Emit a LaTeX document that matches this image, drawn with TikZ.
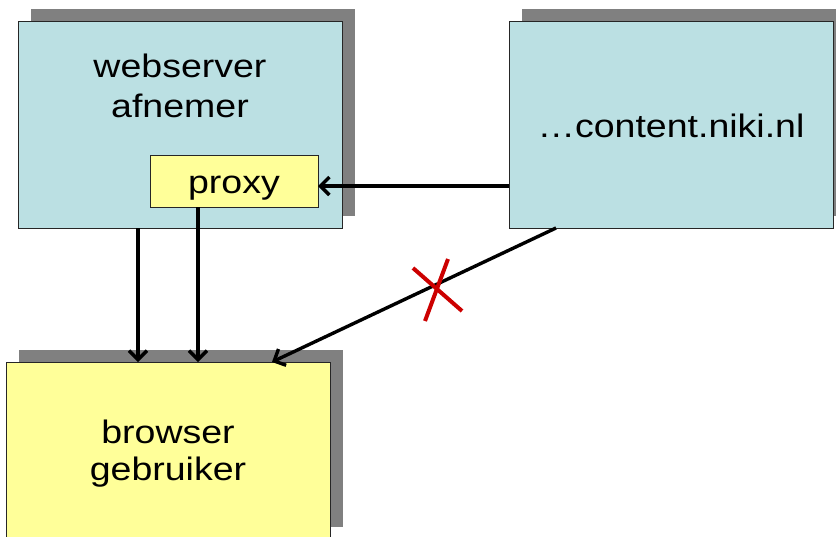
\documentclass[tikz,border=0pt]{standalone}
\usepackage{fontspec}
\setmainfont[FakeStretch=1.154]{Liberation Sans}
\usetikzlibrary{arrows.meta,shadows}
\definecolor{boxblue}{HTML}{BBE0E3}
\definecolor{boxyellow}{HTML}{FFFF99}
\definecolor{shadowgray}{HTML}{808080}
\definecolor{crossred}{HTML}{CC0000}
\begin{document}
\begin{tikzpicture}[x=1pt,y=-1pt,
  box/.style={draw=black!85,line width=1pt,inner sep=0pt,outer sep=0pt,
    minimum width=324pt,minimum height=207pt,
    drop shadow={shadow xshift=13pt,shadow yshift=12pt,fill=shadowgray,opacity=1}},
  proxybox/.style={draw=black!85,line width=1pt,fill=boxyellow,inner sep=0pt,outer sep=0pt,
    minimum width=168pt,minimum height=52pt},
  lbl/.style={anchor=base,inner sep=0pt,font=\fontsize{32.5}{40}\selectfont},
  arr/.style={line width=3.4pt,-{Straight Barb[length=9pt,width=18pt,line width=3.4pt]}},
  crossline/.style={line width=4pt,crossred}]
\useasboundingbox (0,0) rectangle (836,536);
\node[box,fill=boxblue] (web) at (180,124.5) {};
\node[box,fill=boxblue] (content) at (671,124.5) {};
\node[box,fill=boxyellow,minimum height=177pt] (browser) at (168,450.5) {};
\node[proxybox] (proxy) at (234,181) {};
\node[lbl] (webt1) at (180,77) {webserver};
\node[lbl] (webt2) at (180,117) {afnemer};
\node[lbl] (proxyt) at (234,193) {proxy};
\node[lbl] (contentt) at (671,137) {…content.niki.nl};
\node[lbl] (browsert1) at (168,443) {browser};
\node[lbl] (browsert2) at (168,480) {gebruiker};
\coordinate (pe) at ([yshift=-5pt]proxy.east);
\draw[arr] (pe -| content.west) -- (pe);
\draw[arr] ([xshift=-42pt]web.south) -- ([xshift=-30pt]browser.north);
\draw[arr] ([xshift=-36pt]proxy.south) -- ([xshift=30pt]browser.north);
\draw[arr] ([xshift=-115pt]content.south) -- ([xshift=104pt]browser.north);
\coordinate (xa) at (413,268);
\coordinate (xb) at (462,311);
\coordinate (xc) at (448,259);
\coordinate (xd) at (425,321);
\draw[crossline] (xa) -- (xb);
\draw[crossline] (xc) -- (xd);
\end{tikzpicture}
\end{document}
